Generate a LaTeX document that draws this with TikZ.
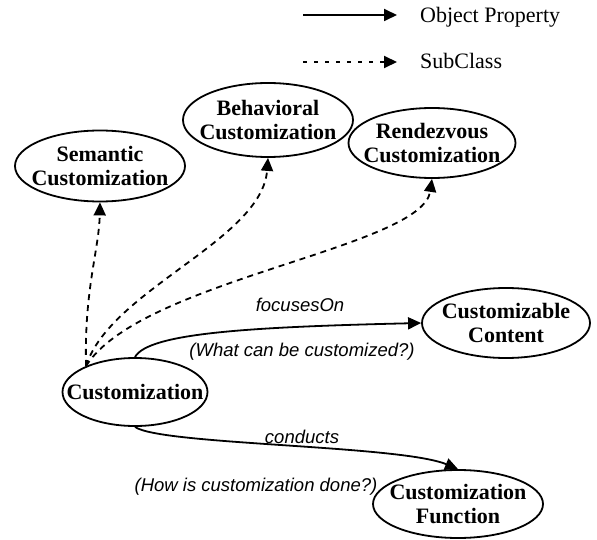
\documentclass[tikz,border=0pt]{standalone}
\usepackage{fontspec}
\setmainfont{Liberation Serif}
\newfontfamily\lsans{Liberation Sans}
\usetikzlibrary{shapes.geometric,arrows.meta}
\tikzset{
  oval/.style={ellipse, draw, line width=1.8pt, inner sep=0pt},
  ovaltext/.style={align=center, inner sep=0pt, font=\bfseries\fontsize{22}{24}\selectfont},
  lbl/.style={inner sep=0pt, font=\lsans\itshape\fontsize{18.5}{20}\selectfont},
  legtext/.style={inner sep=0pt, anchor=base west, font=\fontsize{22}{24}\selectfont},
  tip/.style={-{Triangle[length=13pt,width=12pt]}},
  prop/.style={tip, line width=1.8pt},
  subc/.style={tip, line width=1.8pt, dash pattern=on 6pt off 5pt},
  legsubc/.style={tip, line width=2pt, dash pattern=on 4pt off 7pt},
}
\begin{document}
\begin{tikzpicture}[x=1pt,y=-1pt]
\useasboundingbox (0,0) rectangle (597,540);
% legend
\coordinate (l1a) at (303,15);
\coordinate (l1b) at (397,15);
\coordinate (l2a) at (303,62);
\coordinate (l2b) at (397,62);
\draw[prop] (l1a) -- (l1b);
\draw[legsubc] (l2a) -- (l2b);
\node[legtext] (l1t) at (420,23) {Object Property};
\node[legtext] (l2t) at (420,69) {SubClass};
% nodes
\node[oval, minimum width=170pt, minimum height=71pt] (sem) at (100,166) {};
\node[ovaltext] (semt) at (sem) {Semantic\\Customization};
\node[oval, minimum width=170pt, minimum height=74pt] (beh) at (268,120) {};
\node[ovaltext] (beht) at (beh) {Behavioral\\Customization};
\node[oval, minimum width=167pt, minimum height=70pt] (ren) at (432,143) {};
\node[ovaltext] (rent) at (ren) {Rendezvous\\Customization};
\node[oval, minimum width=168pt, minimum height=70pt] (cc) at (506,323) {};
\node[ovaltext] (cct) at (cc) {Customizable\\Content};
\node[oval, minimum width=145pt, minimum height=68pt] (cust) at (135,392) {};
\node[ovaltext] (custt) at (cust) {Customization};
\node[oval, minimum width=170pt, minimum height=68pt] (fun) at (458,504) {};
\node[ovaltext] (funt) at (fun) {Customization\\Function};
% subclass edges
\draw[subc] (cust.152) .. controls (84,290) and (99,250) .. (sem.south);
\draw[subc] (cust.152) .. controls (110,290) and (262,240) .. (beh.south);
\draw[subc] (cust.152) .. controls (140,280) and (422,248) .. (ren.south);
% property edges
\draw[prop] (cust.north) .. controls (148,333) and (250,327) .. (cc.west);
\draw[prop] (cust.south) .. controls (160,445) and (400,445) .. (fun.north);
% labels
\node[lbl] (l3) at (300,305) {focusesOn};
\node[lbl] (l4) at (302,352) {(What can be customized?)};
\node[lbl] (l5) at (302,437) {conducts};
\node[lbl] (l6) at (256,487) {(How is customization done?)};
\end{tikzpicture}
\end{document}
